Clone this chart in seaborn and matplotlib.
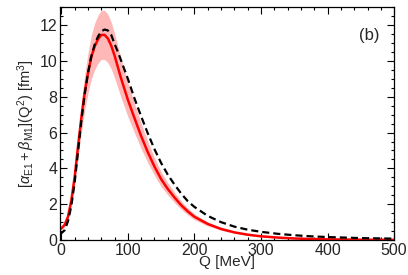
import numpy as np
import pandas as pd
import matplotlib
matplotlib.use("Agg")
import matplotlib.pyplot as plt
import seaborn as sns
from matplotlib.ticker import MultipleLocator

# values
Q = [-3, 0, 5, 10, 15, 20, 25, 30, 35, 40, 45, 50, 55, 60, 65, 70, 75, 80,
     85, 90, 95, 100, 110, 120, 130, 140, 150, 160, 170, 180, 190, 200, 220,
     240, 260, 280, 300, 325, 350, 375, 400, 450, 500]
red = [0.6, 0.65, 0.85, 1.3, 2.2, 3.5, 5.2, 6.8, 8.2, 9.3, 10.2, 10.8, 11.2,
       11.45, 11.45, 11.25, 10.85, 10.3, 9.65, 9.0, 8.42, 7.83, 6.8, 5.8, 4.9,
       4.1, 3.4, 2.85, 2.38, 1.95, 1.6, 1.3, 0.9, 0.62, 0.43, 0.3, 0.21, 0.14,
       0.09, 0.06, 0.04, 0.02, 0.01]
red_low = [0.53, 0.57, 0.75, 1.14, 1.94, 3.08, 4.58, 5.98, 7.22, 8.18, 8.98,
           9.5, 9.86, 10.08, 10.08, 9.9, 9.55, 9.06, 8.49, 7.92, 7.41, 6.89,
           5.98, 5.1, 4.31, 3.61, 2.99, 2.51, 2.09, 1.72, 1.41, 1.14, 0.79,
           0.55, 0.38, 0.26, 0.18, 0.12, 0.08, 0.05, 0.035, 0.018, 0.009]
red_high = [0.67, 0.73, 0.95, 1.46, 2.46, 3.92, 5.82, 7.62, 9.18, 10.42,
            11.42, 12.1, 12.54, 12.82, 12.82, 12.6, 12.15, 11.54, 10.81,
            10.08, 9.43, 8.77, 7.62, 6.5, 5.49, 4.59, 3.81, 3.19, 2.67, 2.18,
            1.79, 1.46, 1.01, 0.69, 0.48, 0.34, 0.24, 0.16, 0.1, 0.07, 0.045,
            0.022, 0.011]
black = [0.35, 0.38, 0.55, 1.05, 1.9, 3.2, 4.9, 6.6, 8.1, 9.3, 10.25, 10.9,
         11.35, 11.65, 11.75, 11.7, 11.45, 10.95, 10.5, 10.0, 9.5, 9.0, 7.9,
         6.9, 5.95, 5.07, 4.3, 3.65, 3.1, 2.6, 2.17, 1.85, 1.35, 1.0, 0.75,
         0.58, 0.46, 0.35, 0.27, 0.21, 0.17, 0.11, 0.08]

df = pd.DataFrame({"Q": Q, "red": red, "black": black})

sns.set_theme(style="ticks")
plt.rcParams["font.family"] = ["Liberation Sans", "DejaVu Sans"]
plt.rcParams["mathtext.fontset"] = "custom"
plt.rcParams["mathtext.rm"] = "Liberation Sans"
plt.rcParams["mathtext.it"] = "Liberation Sans:italic"

fig = plt.figure(figsize=(4.08, 2.75), dpi=100)
ax = fig.add_axes([0.147, 0.127, 0.819, 0.847])

ax.fill_between(Q, red_low, red_high, color="#ffb8b8", lw=0)
sns.lineplot(data=df, x="Q", y="red", color="red", lw=1.8, ax=ax)
sns.lineplot(data=df, x="Q", y="black", color="black", lw=1.6, ax=ax,
             linestyle=(0, (3.2, 1.8)))

ax.set_xlim(-2, 500)
ax.set_ylim(0, 13)
ax.xaxis.set_major_locator(MultipleLocator(100))
ax.xaxis.set_minor_locator(MultipleLocator(20))
ax.yaxis.set_major_locator(MultipleLocator(2))
ax.yaxis.set_minor_locator(MultipleLocator(0.5))
ax.tick_params(which="both", direction="in", top=True, right=True,
               labelsize=11.5, color="black", width=0.8)
ax.tick_params(which="major", length=5, pad=2)
ax.tick_params(which="minor", length=2.5)
for s in ax.spines.values():
    s.set_linewidth(0.9)
    s.set_color("black")

ax.set_xlabel("Q [MeV]", fontsize=11, labelpad=-2)
ax.set_ylabel(r"$[\alpha_{\rm E1}+\beta_{\rm M1}](\mathrm{Q}^2)\ [\mathrm{fm}^3]$",
              fontsize=10.5, labelpad=2)
ax.text(0.955, 0.88, "(b)", transform=ax.transAxes, ha="right", va="center",
        fontsize=12)

fig.savefig("out.png", dpi=100)
